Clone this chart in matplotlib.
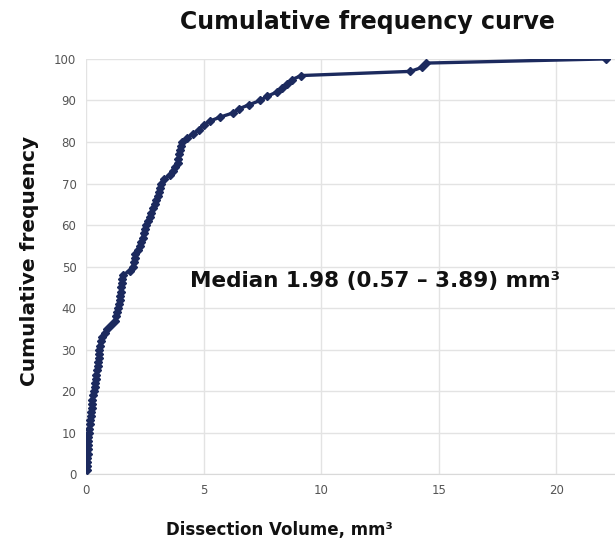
import matplotlib
matplotlib.use("Agg")
import matplotlib.pyplot as plt

volume = [
    0.02, 0.03, 0.04, 0.05, 0.06, 0.07, 0.08, 0.09, 0.10, 0.11,
    0.13, 0.15, 0.17, 0.19, 0.21, 0.23, 0.25, 0.27, 0.30, 0.33,
    0.36, 0.38, 0.41, 0.44, 0.47, 0.49, 0.51, 0.53, 0.55, 0.57,
    0.59, 0.62, 0.68, 0.80, 0.90, 1.08, 1.22, 1.28, 1.33, 1.37,
    1.40, 1.43, 1.46, 1.48, 1.50, 1.52, 1.54, 1.57, 1.85, 1.98,
    2.02, 2.06, 2.10, 2.20, 2.28, 2.35, 2.40, 2.45, 2.50, 2.56,
    2.63, 2.70, 2.78, 2.85, 2.92, 2.98, 3.04, 3.09, 3.14, 3.20,
    3.32, 3.55, 3.70, 3.80, 3.89, 3.92, 3.95, 3.98, 4.02, 4.10,
    4.30, 4.55, 4.80, 5.00, 5.25, 5.70, 6.25, 6.50, 6.95, 7.40,
    7.70, 8.10, 8.35, 8.55, 8.75, 9.15, 13.80, 14.30, 14.45, 22.10,
]
cum_freq = list(range(1, 101))

x_ticks = [0, 5, 10, 15, 20]
y_ticks = list(range(0, 101, 10))

title = "Cumulative frequency curve"
x_label = "Dissection Volume, mm\u00b3"
y_label = "Cumulative frequency"
note = "Median 1.98 (0.57 \u2013 3.89) mm\u00b3"

navy = "#1c2a5e"

fig = plt.figure(figsize=(6.15, 5.56), dpi=100)
ax = fig.add_axes([0.14, 0.147, 0.86, 0.747])

ax.plot(volume, cum_freq, color=navy, lw=2.4, marker="D", ms=4,
        markeredgecolor=navy, markerfacecolor=navy, zorder=3)

ax.set_xlim(0, 22.5)
ax.set_ylim(0, 100)
ax.set_xticks(x_ticks)
ax.set_yticks(y_ticks)
ax.grid(True, color="#e3e3e3", lw=1.0)
ax.set_axisbelow(True)
for s in ["top", "right", "left"]:
    ax.spines[s].set_visible(False)
ax.spines["bottom"].set_color("#d9d9d9")
ax.tick_params(length=0, labelsize=8.5, labelcolor="#555555", pad=7)

fig.text(0.597, 0.96, title, ha="center", va="center",
         fontsize=17, fontweight="bold", color="#111111")
fig.text(0.048, 0.53, y_label, ha="center", va="center", rotation=90,
         fontsize=14.5, fontweight="bold", color="#111111")
fig.text(0.454, 0.046, x_label, ha="center", va="center",
         fontsize=12, fontweight="bold", color="#111111")
ax.text(12.3, 46.5, note, ha="center", va="center",
        fontsize=15.5, fontweight="bold", color="#111111")

fig.savefig("out.png", dpi=100, facecolor="white")
